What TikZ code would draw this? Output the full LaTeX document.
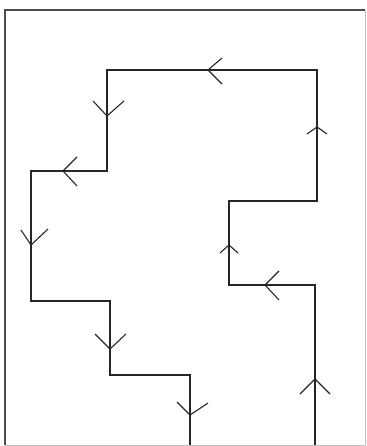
\documentclass[tikz,border=0pt]{standalone}
\begin{document}
\begin{tikzpicture}[x=1pt,y=-1pt,
  pathline/.style={draw=black!85, line width=1.6pt, line join=miter},
  vmark/.style={draw=black!85, line width=1.1pt},
  frame/.style={draw=black!70, line width=2pt}]
\useasboundingbox (0,0) rectangle (366,446);
% frame
\draw[draw=black!25, line width=1pt] (5,445) -- (365,445) -- (365,10);
\draw[frame] (5,445) -- (5,10) -- (365,10);
% path corners
\coordinate (p0) at (315,445);
\coordinate (p1) at (315,285);
\coordinate (p2) at (229,285);
\coordinate (p3) at (229,201);
\coordinate (p4) at (317,201);
\coordinate (p5) at (317,70);
\coordinate (p6) at (107,70);
\coordinate (p7) at (107,171);
\coordinate (p8) at (31,171);
\coordinate (p9) at (31,301);
\coordinate (p10) at (110,301);
\coordinate (p11) at (110,375);
\coordinate (p12) at (190,375);
\coordinate (p13) at (190,445);
\draw[pathline] (p0) -- (p1) -- (p2) -- (p3) -- (p4) -- (p5) -- (p6) -- (p7) -- (p8) -- (p9) -- (p10) -- (p11) -- (p12) -- (p13);
% arrow marks (open V)
% up
\draw[vmark] (300,394) -- (315,379) -- (330,394);
\draw[vmark] (220,253) -- (229,245) -- (238,253);
\draw[vmark] (307,134) -- (317,127) -- (327,134);
% left
\draw[vmark] (279,271) -- (265,285) -- (279,300);
\draw[vmark] (222,58) -- (208,70) -- (222,84);
\draw[vmark] (77,157) -- (63,171) -- (77,186);
% down
\draw[vmark] (93,101) -- (107,116) -- (124,101);
\draw[vmark] (21,230) -- (31,245) -- (48,229);
\draw[vmark] (95,334) -- (110,349) -- (126,334);
\draw[vmark] (177,402) -- (190,415) -- (208,403);
\end{tikzpicture}
\end{document}
